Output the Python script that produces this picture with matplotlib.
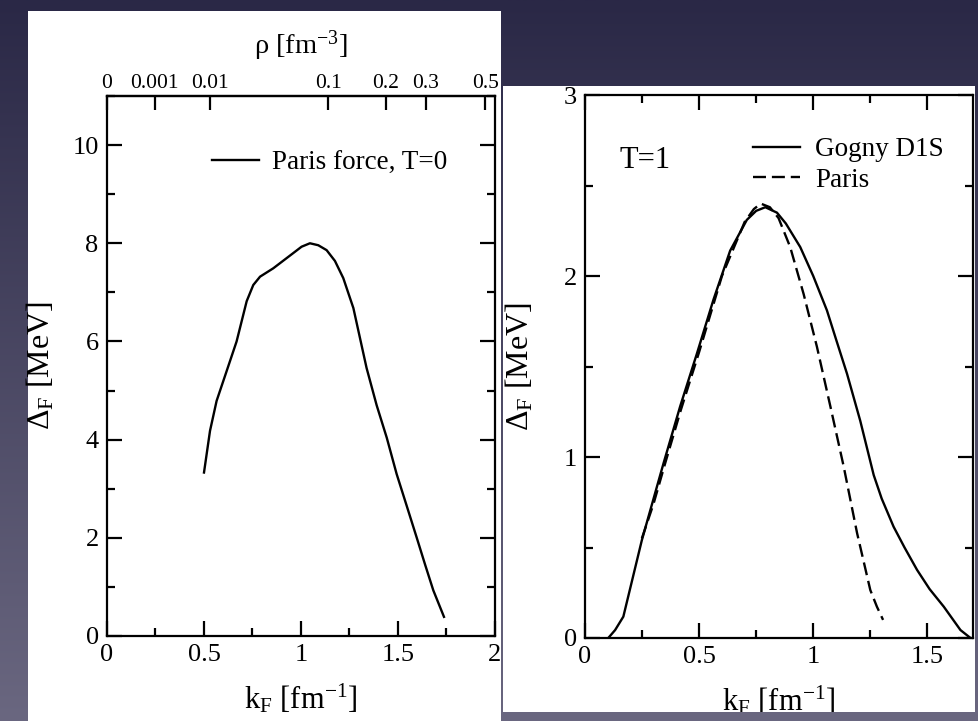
import numpy as np
import matplotlib
matplotlib.use('Agg')
import matplotlib.pyplot as plt
from matplotlib.patches import Rectangle
from matplotlib.ticker import MultipleLocator, NullLocator

# Paris force, T=0 (left panel)
kf_t0 = [0.500, 0.531, 0.565, 0.617, 0.668, 0.720, 0.754, 0.789, 0.857, 0.960,
         1.003, 1.046, 1.089, 1.132, 1.175, 1.218, 1.270, 1.304, 1.338, 1.390,
         1.442, 1.493, 1.545, 1.596, 1.640, 1.682, 1.737]
gap_t0 = [3.33, 4.18, 4.79, 5.40, 6.00, 6.82, 7.15, 7.32, 7.49, 7.80,
          7.93, 8.00, 7.96, 7.86, 7.64, 7.29, 6.68, 6.07, 5.46, 4.70,
          4.04, 3.30, 2.65, 2.01, 1.45, 0.93, 0.39]

# T=1 (right panel)
kf_gogny = [0.102, 0.132, 0.168, 0.249, 0.344, 0.417, 0.490, 0.563, 0.636, 0.709,
            0.750, 0.790, 0.841, 0.880, 0.943, 1.000, 1.060, 1.100, 1.148, 1.206,
            1.265, 1.300, 1.352, 1.400, 1.455, 1.510, 1.572, 1.645, 1.689]
gap_gogny = [0.0, 0.044, 0.118, 0.54, 0.965, 1.28, 1.57, 1.87, 2.14, 2.31,
             2.36, 2.38, 2.35, 2.29, 2.16, 2.00, 1.81, 1.65, 1.46, 1.20,
             0.90, 0.77, 0.615, 0.50, 0.376, 0.27, 0.173, 0.044, 0.0]
kf_paris = [0.249, 0.30, 0.35, 0.42, 0.50, 0.60, 0.70, 0.74, 0.77, 0.81,
            0.848, 0.899, 0.958, 1.016, 1.075, 1.133, 1.192, 1.25, 1.279, 1.306]
gap_paris = [0.55, 0.74, 0.96, 1.26, 1.58, 2.00, 2.30, 2.37, 2.40, 2.38,
             2.32, 2.16, 1.90, 1.61, 1.28, 0.95, 0.58, 0.265, 0.173, 0.10]

rho_ticks = [0, 0.001, 0.01, 0.1, 0.2, 0.3, 0.5]
rho_labels = ['0', '0.001', '0.01', '0.1', '0.2', '0.3', '0.5']

plt.rcParams['font.family'] = ['Liberation Serif', 'DejaVu Serif']
plt.rcParams['mathtext.fontset'] = 'custom'
plt.rcParams['mathtext.rm'] = 'Liberation Serif'
plt.rcParams['mathtext.it'] = 'Liberation Serif:italic'

W, H = 979, 721
fig = plt.figure(figsize=(W / 100, H / 100), dpi=100)

# slide background gradient
bg = fig.add_axes([0, 0, 1, 1], zorder=-10)
top_c = np.array([42, 40, 70]) / 255
bot_c = np.array([106, 103, 128]) / 255
t = np.linspace(0, 1, 256)[:, None, None]
grad = top_c * (1 - t) + bot_c * t
bg.imshow(grad, aspect='auto', extent=[0, 1, 0, 1])
bg.set_axis_off()


def px_rect(x0, y0, x1, y1):
    return Rectangle((x0 / W, 1 - y1 / H), (x1 - x0) / W, (y1 - y0) / H,
                     transform=fig.transFigure, facecolor='white',
                     edgecolor='none', zorder=-5)


left_panel = px_rect(28, 11, 501, 721)
right_panel = px_rect(503, 86, 975, 712)
fig.add_artist(left_panel)
fig.add_artist(right_panel)


def k_to_rho(k):
    k = np.asarray(k, dtype=float)
    return 2 * k ** 3 / (3 * np.pi ** 2)


def rho_to_k(r):
    r = np.asarray(r, dtype=float)
    return np.cbrt(1.5 * np.pi ** 2 * r)


def style(ax):
    for s in ax.spines.values():
        s.set_linewidth(1.6)
    ax.tick_params(which='major', direction='in', length=11, width=1.6,
                   labelsize=19, pad=6)
    ax.tick_params(which='minor', direction='in', length=5.5, width=1.6)


lw = 1.7

# ---- left panel ----
ax1 = fig.add_axes([107 / W, 1 - 636 / H, 388 / W, 540 / H])
ax1.plot(kf_t0, gap_t0, c='k', lw=lw, label='Paris force, T=0')
ax1.set_xlim(0, 2)
ax1.set_ylim(0, 11)
ax1.set_xticks([0, 0.5, 1, 1.5, 2], ['0', '0.5', '1', '1.5', '2'])
ax1.set_yticks([0, 2, 4, 6, 8, 10], ['0', '2', '4', '6', '8', '10'])
ax1.xaxis.set_minor_locator(MultipleLocator(0.25))
ax1.yaxis.set_minor_locator(MultipleLocator(1))
style(ax1)
ax1.tick_params(which='both', right=True, top=False)
ax1.set_xlabel('k$_\\mathrm{F}$ [fm$^{-1}$]', fontsize=22)
ax1.set_ylabel('Δ$_\\mathrm{F}$ [MeV]', fontsize=23)
ax1.xaxis.set_label_coords(0.5, -0.085)
ax1.yaxis.set_label_coords(-0.130, 0.5)
ax1.legend(loc='center left', bbox_to_anchor=(0.2706, 0.876), frameon=False,
           fontsize=19.5, handlelength=1.75, handletextpad=0.45,
           borderpad=0, borderaxespad=0)

sec = ax1.secondary_xaxis('top', functions=(k_to_rho, rho_to_k))
sec.set_xticks(rho_ticks, rho_labels)
sec.xaxis.set_minor_locator(NullLocator())
sec.spines['top'].set_linewidth(1.6)
sec.tick_params(direction='in', length=10, width=1.6, labelsize=15.5, pad=2)
sec.set_xlabel('ρ [fm$^{-3}$]', fontsize=20.5, labelpad=15)
for lab in sec.get_xticklabels():
    lab.set_clip_path(left_panel)

# ---- right panel ----
ax2 = fig.add_axes([585 / W, 1 - 638 / H, 388 / W, 543 / H])
ax2.plot(kf_gogny, gap_gogny, c='k', lw=lw, label='Gogny D1S')
ax2.plot(kf_paris, gap_paris, c='k', lw=lw, ls=(0, (5.5, 2.5)), label='Paris')
ax2.set_xlim(0, 1.7)
ax2.set_ylim(0, 3)
ax2.set_xticks([0, 0.5, 1, 1.5], ['0', '0.5', '1', '1.5'])
ax2.set_yticks([0, 1, 2, 3], ['0', '1', '2', '3'])
ax2.xaxis.set_minor_locator(MultipleLocator(0.25))
ax2.yaxis.set_minor_locator(MultipleLocator(0.5))
style(ax2)
ax2.tick_params(which='both', right=True, top=True)
xl = ax2.set_xlabel('k$_\\mathrm{F}$ [fm$^{-1}$]', fontsize=22)
ax2.set_ylabel('Δ$_\\mathrm{F}$ [MeV]', fontsize=23)
ax2.xaxis.set_label_coords(0.5, -0.085)
ax2.yaxis.set_label_coords(-0.127, 0.5)
xl.set_clip_path(right_panel)
ax2.text(0.090, 0.8656, 'T=1', transform=ax2.transAxes, fontsize=22,
         va='baseline', ha='left')
ax2.legend(loc='center left', bbox_to_anchor=(0.433, 0.871), frameon=False,
           fontsize=19.5, handlelength=1.75, handletextpad=0.55,
           labelspacing=0.2, borderpad=0, borderaxespad=0)

fig.savefig('out.png', dpi=100)
